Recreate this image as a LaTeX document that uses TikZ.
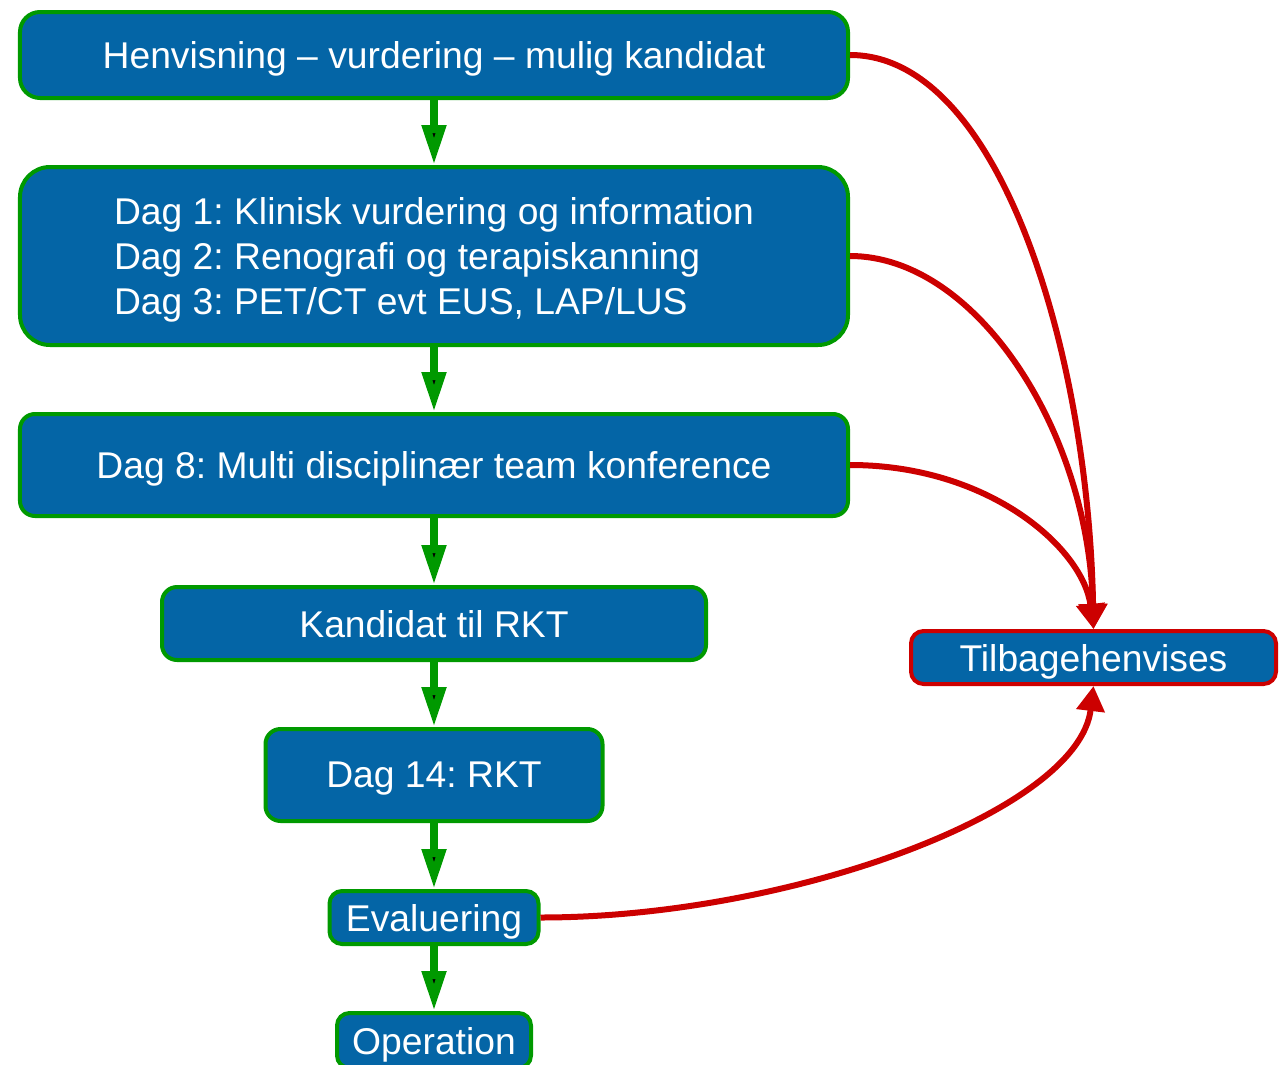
\documentclass[tikz,border=0pt]{standalone}
\usepackage{fontspec}
\setmainfont{Liberation Sans}
\usetikzlibrary{arrows.meta,positioning}
\definecolor{boxblue}{HTML}{0465A6}
\definecolor{flowgreen}{HTML}{009900}
\definecolor{backred}{HTML}{CC0000}
\frenchspacing

\begin{document}
\begin{tikzpicture}[node distance=1.3cm,
    stage/.style={draw=flowgreen,fill=boxblue,line width=0.08cm,rounded corners=0.3cm,
                  text=white,inner sep=0pt,text depth=0pt,font=\fontsize{21.2}{25.6}\selectfont},
    back/.style={stage,draw=backred},
    forward/.style={draw=flowgreen,line width=0.16cm,-{Triangle[length=0.8cm,width=0.46cm]}},
    return/.style={draw=backred,line width=0.12cm,-{Triangle[length=0.5cm,width=0.55cm]}}]

  \useasboundingbox (0,0) rectangle (25.6,-21.3);

  \node[stage,minimum width=16.56cm,minimum height=1.72cm,rounded corners=0.4cm] (A) at (8.68,-1.1)
        {Henvisning -- vurdering -- mulig kandidat};
  \node[stage,minimum width=16.56cm,minimum height=3.56cm,rounded corners=0.6cm,align=left] (B) [below=of A]
        {Dag 1: Klinisk vurdering og information\\Dag 2: Renografi og terapiskanning\\Dag 3: PET/CT evt EUS, LAP/LUS};
  \node[stage,minimum width=16.56cm,minimum height=2.04cm] (C) [below=of B]
        {Dag 8: Multi disciplinær team konference};
  \node[stage,minimum width=10.88cm,minimum height=1.46cm] (D) [below=1.34cm of C] {Kandidat til RKT};
  \node[stage,minimum width=6.74cm,minimum height=1.84cm] (E) [below=of D] {Dag 14: RKT};
  \node[stage,minimum width=4.18cm,minimum height=1.06cm,rounded corners=0.25cm] (F) [below=1.32cm of E] {Evaluering};
  \node[stage,minimum width=3.88cm,minimum height=1.1cm,rounded corners=0.25cm] (G) [below=of F] {Operation};
  \node[back,minimum width=7.3cm,minimum height=1.06cm,rounded corners=0.25cm] (T) at (21.87,-13.15) {Tilbagehenvises};

  \path[forward] (A) edge (B)
                 (B) edge (C)
                 (C) edge (D)
                 (D) edge (E)
                 (E) edge (F)
                 (F) edge (G);

  \draw[return] (A.east) .. controls +(3,0) and +(-0.1,5.5) .. (T.north);
  \draw[return] (B.east) .. controls +(2.5,0) and +(-0.1,4) .. (T.north);
  \draw[return] (C.east) .. controls +(2.8,0) and +(-0.2,1.6) .. (T.north);
  \draw[return] (F.east) .. controls +(5,0) and +(-0.3,-2.5) .. (T.south);
\end{tikzpicture}
\end{document}
